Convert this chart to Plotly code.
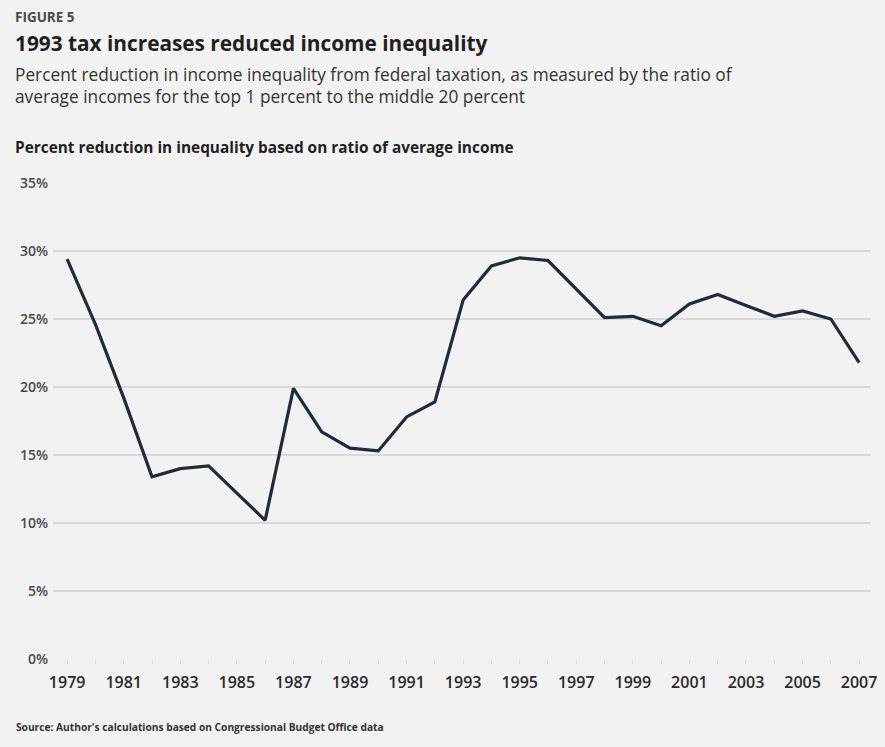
import plotly.graph_objects as go

# Percent reduction in top-1% / middle-20% income ratio from federal taxes
years = list(range(1979, 2008))
reduction_pct = [
    29.4, 24.6, 19.2, 13.4, 14.0, 14.2, 12.2, 10.2, 19.9, 16.7,
    15.5, 15.3, 17.8, 18.9, 26.4, 28.9, 29.5, 29.3, 27.2, 25.1,
    25.2, 24.5, 26.1, 26.8, 26.0, 25.2, 25.6, 25.0, 21.8,
]
x_tick_labels = [str(y) if (y - 1979) % 2 == 0 else "" for y in years]
y_tick_values = [0, 5, 10, 15, 20, 25, 30, 35]
y_tick_labels = [f"{v}%" for v in y_tick_values]

BG = "#f2f2f2"
LINE = "#1f2b3b"
FONT = "Open Sans"

W, H = 885, 747
L, R, T, B = 53, 8, 183, 88
plot_w = W - L - R
plot_h = H - T - B


def px_x(px):
    return (px - L) / plot_w


def px_y(py):
    return (H - B - py) / plot_h


fig = go.Figure()
fig.add_trace(go.Scatter(
    x=years, y=reduction_pct, mode="lines",
    line=dict(color=LINE, width=3.2),
    hoverinfo="skip",
))

texts = [
    ("<b>FIGURE 5</b>", 13, 17, 13.5, "#4a4a4a"),
    ("<b>1993 tax increases reduced income inequality</b>", 13, 43, 20.8, "#1f1f1f"),
    ("Percent reduction in income inequality from federal taxation, as measured by the ratio of",
     13, 75, 17.3, "#333333"),
    ("average incomes for the top 1 percent to the middle 20 percent", 13, 97, 17.3, "#333333"),
    ("<b>Percent reduction in inequality based on ratio of average income</b>", 13, 147, 15.4, "#1f1f1f"),
    ("<b>Source: Author's calculations based on Congressional Budget Office data</b>",
     14, 727, 10.2, "#333333"),
]
annotations = [
    dict(text=t, x=px_x(x), y=px_y(y), xref="paper", yref="paper",
         xanchor="left", yanchor="middle", showarrow=False,
         font=dict(family=FONT, size=s, color=c))
    for t, x, y, s, c in texts
]

fig.update_layout(
    width=W, height=H,
    margin=dict(l=L, r=R, t=T, b=B),
    paper_bgcolor=BG, plot_bgcolor=BG,
    showlegend=False,
    annotations=annotations,
    xaxis=dict(
        range=[1978.5, 2007.42],
        tickmode="array", tickvals=years, ticktext=x_tick_labels,
        ticks="outside", ticklen=4, tickcolor="#dcdcdc", tickwidth=1,
        showgrid=False, zeroline=False, showline=False,
        tickfont=dict(family=FONT, size=16, color="#2a2a2a", weight=600),
        ticklabelstandoff=5,
    ),
    yaxis=dict(
        range=[0, 35],
        tickmode="array", tickvals=y_tick_values, ticktext=y_tick_labels,
        showgrid=True, gridcolor="#d9d9d9", gridwidth=1.6,
        zeroline=False, showline=False, ticks="",
        tickfont=dict(family=FONT, size=14, color="#4a4a4a", weight=600),
        ticklabelstandoff=4,
    ),
)

fig.write_html("out.html")
